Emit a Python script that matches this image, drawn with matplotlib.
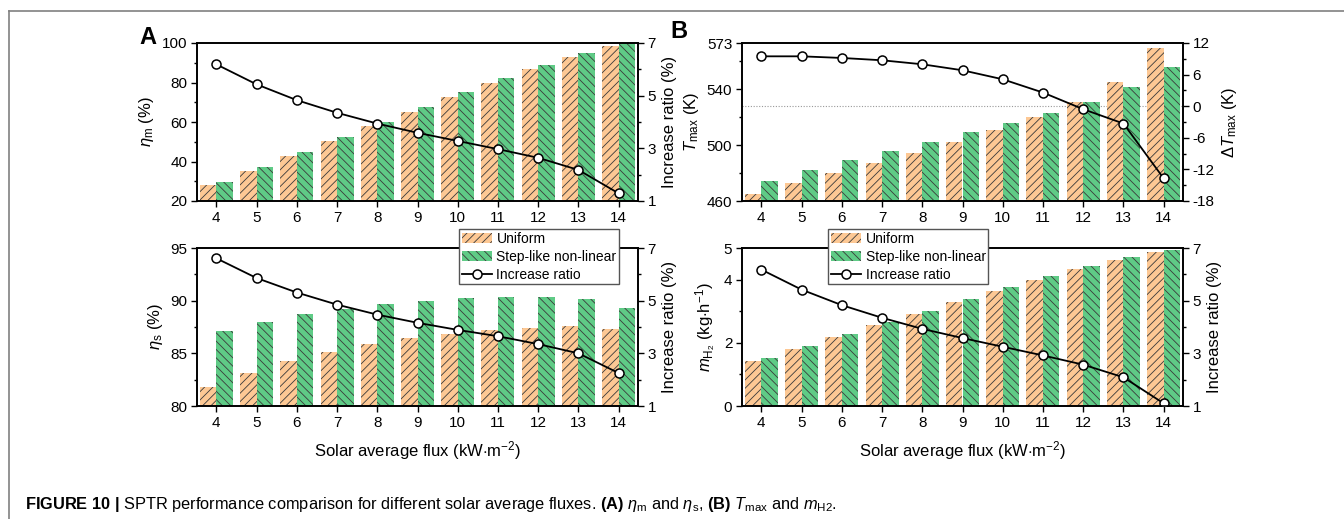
import numpy as np
import matplotlib.pyplot as plt
from matplotlib.ticker import FixedLocator
from matplotlib.lines import Line2D
from matplotlib.patches import Patch

plt.rcParams['font.family'] = ['Liberation Sans', 'DejaVu Sans']
plt.rcParams['mathtext.fontset'] = 'custom'
plt.rcParams['mathtext.rm'] = 'Liberation Sans'
plt.rcParams['mathtext.it'] = 'Liberation Sans:italic'
plt.rcParams['mathtext.bf'] = 'Liberation Sans:bold'
plt.rcParams['hatch.linewidth'] = 0.6
plt.rcParams['axes.unicode_minus'] = False
plt.rcParams['font.size'] = 11

# data
flux = [4, 5, 6, 7, 8, 9, 10, 11, 12, 13, 14]

eta_m_uni = [28.0, 35.4, 42.8, 50.3, 57.9, 65.3, 72.6, 79.9, 87.0, 93.1, 98.5]
eta_m_step = [29.6, 37.4, 44.9, 52.6, 60.1, 67.7, 75.3, 82.2, 89.0, 95.1, 100.0]
eta_m_ratio = [6.19, 5.43, 4.83, 4.35, 3.94, 3.59, 3.28, 2.97, 2.64, 2.18, 1.29]

eta_s_uni = [81.8, 83.15, 84.23, 85.12, 85.87, 86.44, 86.88, 87.23, 87.45, 87.55, 87.33]
eta_s_step = [87.14, 88.02, 88.72, 89.25, 89.69, 90.01, 90.23, 90.39, 90.36, 90.14, 89.28]
eta_s_ratio = [6.61, 5.86, 5.31, 4.85, 4.47, 4.16, 3.89, 3.65, 3.35, 3.0, 2.25]

tmax_uni = [465.0, 472.6, 479.7, 487.1, 494.3, 501.9, 510.7, 519.9, 531.1, 544.9, 569.7]
tmax_step = [474.5, 482.1, 489.3, 495.7, 502.3, 509.0, 515.7, 522.8, 530.9, 541.8, 555.9]
dtmax = [9.47, 9.47, 9.16, 8.72, 7.96, 6.82, 5.11, 2.59, -0.57, -3.29, -13.71]

mh2_uni = [1.42, 1.80, 2.17, 2.55, 2.91, 3.28, 3.64, 4.00, 4.34, 4.63, 4.86]
mh2_step = [1.51, 1.89, 2.27, 2.65, 3.02, 3.40, 3.77, 4.12, 4.44, 4.73, 4.93]
mh2_ratio = [6.18, 5.42, 4.83, 4.35, 3.93, 3.58, 3.25, 2.92, 2.57, 2.09, 1.10]

c_uni = '#FDC894'
c_step = '#5FCB86'
hcol = '#3a3a3a'
W = 0.41

fig = plt.figure(figsize=(13.44, 5.19), dpi=100)

# outer frame (clipped by the image edge on right / bottom)
fig.add_artist(Line2D([9/1344, 1.0], [1-10.5/519, 1-10.5/519], color='#808080', lw=1.2))
fig.add_artist(Line2D([9/1344, 9/1344], [0.0, 1-10.5/519], color='#808080', lw=1.2))


def style(ax):
    for s in ax.spines.values():
        s.set_linewidth(1.2)
    ax.tick_params(which='major', direction='out', length=4, width=1, labelsize=11, pad=3)
    ax.tick_params(which='minor', direction='out', length=2.5, width=1)


def panel(rect, uni, step, ratio, ylim, ymaj, ymin, rlim, rmaj, rmin, ylab, rlab):
    ax = fig.add_axes(rect)
    x = np.array(flux)
    ax.bar(x - W/2, uni, W, color=c_uni, edgecolor=hcol, lw=0, hatch='////', zorder=2)
    ax.bar(x + W/2, step, W, color=c_step, edgecolor=hcol, lw=0, hatch='\\\\\\\\', zorder=2)
    ax.set_xlim(3.52, 14.48)
    ax.set_ylim(*ylim)
    ax.set_xticks(flux)
    ax.yaxis.set_major_locator(FixedLocator(ymaj))
    ax.yaxis.set_minor_locator(FixedLocator(ymin))
    ax.set_ylabel(ylab, fontsize=12)
    ax.tick_params(axis='y', right=False)
    style(ax)
    ax2 = ax.twinx()
    ax2.plot(flux, ratio, '-o', color='k', lw=1.3, ms=6.5, mfc='white', mec='k', mew=1.1)
    ax2.set_ylim(*rlim)
    ax2.yaxis.set_major_locator(FixedLocator(rmaj))
    ax2.yaxis.set_minor_locator(FixedLocator(rmin))
    ax2.set_ylabel(rlab, fontsize=12)
    style(ax2)
    return ax, ax2


L1, L2 = 197/1344, 742/1344
WD = 441/1344
B1, B2 = 1-201/519, 1-406/519
HT = 158/519

ratio_lab = 'Increase ratio (%)'
axA1, axA1r = panel([L1, B1, WD, HT], eta_m_uni, eta_m_step, eta_m_ratio,
                    (20, 100), [20, 40, 60, 80, 100], [30, 50, 70, 90],
                    (1, 7), [1, 3, 5, 7], [2, 4, 6], r'$\eta_{\rm m}$ (%)', ratio_lab)
axA2, axA2r = panel([L1, B2, WD, HT], eta_s_uni, eta_s_step, eta_s_ratio,
                    (80, 95), [80, 85, 90, 95], [82.5, 87.5, 92.5],
                    (1, 7), [1, 3, 5, 7], [2, 4, 6], r'$\eta_{\rm s}$ (%)', ratio_lab)
axB1, axB1r = panel([L2, B1, WD, HT], tmax_uni, tmax_step, dtmax,
                    (460, 573), [460, 500, 540, 573], [480, 520, 560],
                    (-18, 12), [-18, -12, -6, 0, 6, 12], [-15, -9, -3, 3, 9],
                    r'$T_{\rm max}$ (K)', r'$\Delta T_{\rm max}$ (K)')
axB2, axB2r = panel([L2, B2, WD, HT], mh2_uni, mh2_step, mh2_ratio,
                    (0, 5), [0, 2, 4, 5], [1, 3],
                    (1, 7), [1, 3, 5, 7], [2, 4, 6],
                    r'$m_{\rm H_2}$ (kg$\cdot$h$^{-1}$)', ratio_lab)

# dotted zero line of the right axis, drawn behind the bars
ylo, yhi = axB1.get_ylim()
rlo, rhi = axB1r.get_ylim()
axB1.axhline(ylo + (0 - rlo) / (rhi - rlo) * (yhi - ylo), color='#999999', lw=0.8,
             ls=(0, (1, 1.5)), zorder=1)

for a in (axA2, axB2):
    a.set_xlabel(r'Solar average flux (kW$\cdot$m$^{-2}$)', fontsize=12, labelpad=7)

handles = [Patch(facecolor=c_uni, edgecolor=hcol, lw=0, hatch='////'),
           Patch(facecolor=c_step, edgecolor=hcol, lw=0, hatch='\\\\\\\\'),
           Line2D([], [], color='k', lw=1.3, marker='o', ms=6.5, mfc='white', mec='k', mew=1.1)]
labels = ['Uniform', 'Step-like non-linear', 'Increase ratio']
for a, lx in ((axA2r, 459/1344), (axB2r, 828/1344)):
    lg = a.legend(handles, labels, loc='upper left', bbox_to_anchor=(lx, 1-229/519),
                  bbox_transform=fig.transFigure, fontsize=10, frameon=True,
                  fancybox=False, edgecolor='#555555', framealpha=1,
                  borderpad=0.2, labelspacing=0.28, handlelength=2.2,
                  handletextpad=0.3, borderaxespad=0)
    lg.get_frame().set_linewidth(1.0)
    lg.set_zorder(10)

fig.text(148/1344, 1-37/519, 'A', fontsize=17, fontweight='bold', ha='center', va='center')
fig.text(679/1344, 1-31/519, 'B', fontsize=17, fontweight='bold', ha='center', va='center')

fig.text(25/1344, 1-505/519,
         r'$\mathbf{FIGURE\ 10\ |}$ SPTR performance comparison for different solar average fluxes. '
         r'$\mathbf{(A)}$ $\eta_{\rm m}$ and $\eta_{\rm s}$, $\mathbf{(B)}$ $T_{\rm max}$ and $m_{\rm H2}$.',
         fontsize=11.8, ha='left', va='center')

fig.savefig('out.png', dpi=100)
